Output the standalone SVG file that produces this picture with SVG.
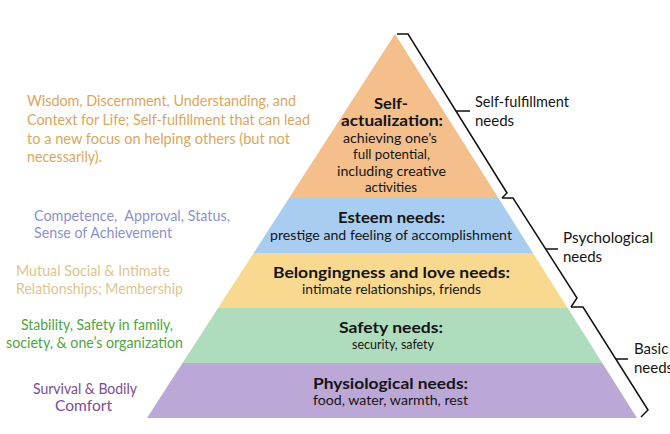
<svg xmlns="http://www.w3.org/2000/svg" width="670" height="434" viewBox="0 0 670 434">
<style>
  .lvl { stroke: none; }
  .h { font-family: Lato, "Liberation Sans", sans-serif; font-weight: bold; font-size: 14.5px; fill: #151515; }
  .b { font-family: Lato, "Liberation Sans", sans-serif; font-size: 14px; fill: #151515; }
  .note { font-family: Lato, "Liberation Sans", sans-serif; font-size: 14.5px; }
  .lab { font-family: Lato, "Liberation Sans", sans-serif; font-size: 15px; fill: #151515; }
  .br { fill: none; stroke: #111; stroke-width: 1.5; stroke-linejoin: miter; }
</style>
<rect width="670" height="434" fill="#ffffff"/>

<g id="level-self-actualization">
  <polygon class="lvl" fill="#F4BF8B" points="395,34 498.4,198 289.1,198"/>
  <text class="h" x="374" y="109" textLength="34" lengthAdjust="spacingAndGlyphs">Self-</text>
  <text class="h" x="341" y="126" textLength="102" lengthAdjust="spacingAndGlyphs">actualization:</text>
  <text class="b" x="343" y="143" textLength="94" lengthAdjust="spacingAndGlyphs">achieving one’s</text>
  <text class="b" x="353" y="159" textLength="77" lengthAdjust="spacingAndGlyphs">full potential,</text>
  <text class="b" x="337" y="176" textLength="109" lengthAdjust="spacingAndGlyphs">including creative</text>
  <text class="b" x="365" y="192" textLength="52" lengthAdjust="spacingAndGlyphs">activities</text>
</g>

<g id="level-esteem">
  <polygon class="lvl" fill="#A9CDF0" points="289.1,198 498.4,198 533,253 253.6,253"/>
  <text class="h" x="338" y="223" textLength="107" lengthAdjust="spacingAndGlyphs">Esteem needs:</text>
  <text class="b" x="270" y="240" textLength="242" lengthAdjust="spacingAndGlyphs">prestige and feeling of accomplishment</text>
</g>

<g id="level-belongingness">
  <polygon class="lvl" fill="#F8D98F" points="253.6,253 533,253 567.7,308 218.1,308"/>
  <text class="h" x="273" y="278" textLength="237" lengthAdjust="spacingAndGlyphs">Belongingness and love needs:</text>
  <text class="b" x="302" y="294" textLength="179" lengthAdjust="spacingAndGlyphs">intimate relationships, friends</text>
</g>

<g id="level-safety">
  <polygon class="lvl" fill="#AFDCBD" points="218.1,308 567.7,308 602.3,363 182.5,363"/>
  <text class="h" x="339" y="333" textLength="104" lengthAdjust="spacingAndGlyphs">Safety needs:</text>
  <text class="b" x="352" y="349" textLength="82" lengthAdjust="spacingAndGlyphs">security, safety</text>
</g>

<g id="level-physiological">
  <polygon class="lvl" fill="#BCA8D7" points="182.5,363 602.3,363 637,418 147,418"/>
  <text class="h" x="313" y="389" textLength="155" lengthAdjust="spacingAndGlyphs">Physiological needs:</text>
  <text class="b" x="313" y="405" textLength="155" lengthAdjust="spacingAndGlyphs">food, water, warmth, rest</text>
</g>

<g id="note-wisdom" class="note" fill="#DDA660">
  <text x="27" y="106" textLength="269" lengthAdjust="spacingAndGlyphs">Wisdom, Discernment, Understanding, and</text>
  <text x="27" y="125" textLength="283" lengthAdjust="spacingAndGlyphs">Context for Life; Self-fulfillment that can lead</text>
  <text x="27" y="144" textLength="263" lengthAdjust="spacingAndGlyphs">to a new focus on helping others (but not</text>
  <text x="27" y="162" textLength="75" lengthAdjust="spacingAndGlyphs">necessarily).</text>
</g>

<g id="note-competence" class="note" fill="#8C92D4">
  <text x="34" y="221" xml:space="preserve" textLength="196" lengthAdjust="spacingAndGlyphs">Competence,  Approval, Status,</text>
  <text x="34" y="238" textLength="138" lengthAdjust="spacingAndGlyphs">Sense of Achievement</text>
</g>

<g id="note-mutual" class="note" fill="#E2C48E">
  <text x="16" y="276" textLength="154" lengthAdjust="spacingAndGlyphs">Mutual Social &amp; Intimate</text>
  <text x="16" y="294" textLength="167" lengthAdjust="spacingAndGlyphs">Relationships; Membership</text>
</g>

<g id="note-stability" class="note" fill="#4FA542">
  <text x="21" y="330" textLength="152" lengthAdjust="spacingAndGlyphs">Stability, Safety in family,</text>
  <text x="6" y="348" textLength="177" lengthAdjust="spacingAndGlyphs">society, &amp; one’s organization</text>
</g>

<g id="note-survival" class="note" fill="#7B4D9C">
  <text x="33" y="394" textLength="104" lengthAdjust="spacingAndGlyphs">Survival &amp; Bodily</text>
  <text x="55" y="411" textLength="57" lengthAdjust="spacingAndGlyphs">Comfort</text>
</g>

<g id="label-self-fulfillment" class="lab">
  <text x="475" y="107" textLength="94" lengthAdjust="spacingAndGlyphs">Self-fulfillment</text>
  <text x="475" y="126">needs</text>
</g>

<g id="label-psychological" class="lab">
  <text x="563" y="243" textLength="90" lengthAdjust="spacingAndGlyphs">Psychological</text>
  <text x="563" y="262">needs</text>
</g>

<g id="label-basic" class="lab">
  <text x="634" y="354">Basic</text>
  <text x="634" y="373">needs</text>
</g>

<g id="connectors">
  <path class="br" d="M397,34 H408 L507,193 L502,198"/>
  <path class="br" d="M456,111 H470"/>
  <path class="br" d="M502,198 H513 L577,298 L571,307"/>
  <path class="br" d="M546,249 H558"/>
  <path class="br" d="M571,307 H583 L648,410 L641,417"/>
  <path class="br" d="M616,359 H628"/>
</g>
</svg>
